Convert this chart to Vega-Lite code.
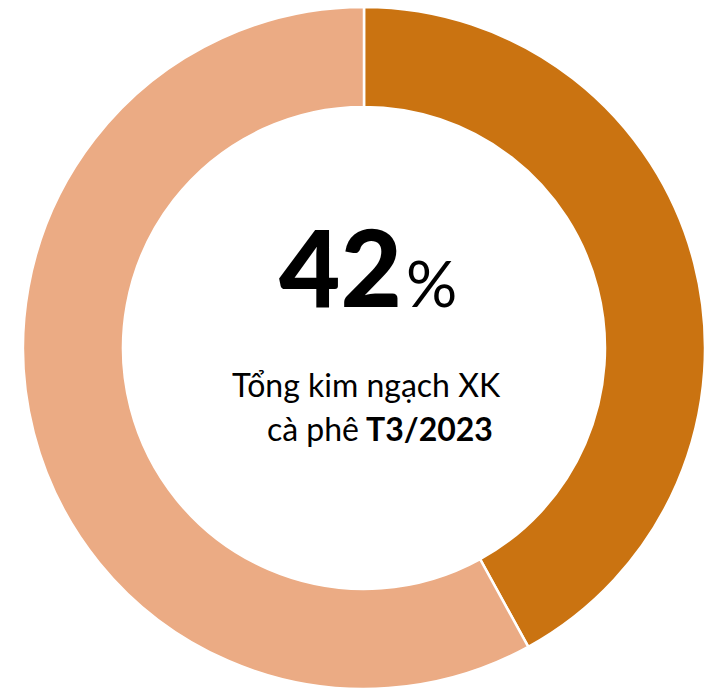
{
  "$schema": "https://vega.github.io/schema/vega-lite/v6.json",
  "width": 680,
  "height": 684,
  "padding": {"left": 24, "top": 6, "right": 0, "bottom": 0},
  "autosize": {"type": "none"},
  "background": "white",
  "view": {"stroke": null},
  "datasets": {
    "share": [
      {"group": "Cà phê", "value": 42, "rank": 1},
      {"group": "Khác", "value": 58, "rank": 2}
    ]
  },
  "layer": [
    {
      "data": {"name": "share"},
      "mark": {"type": "arc", "outerRadius": 341, "innerRadius": 241, "stroke": "white", "strokeWidth": 2.5},
      "encoding": {
        "theta": {"field": "value", "type": "quantitative", "stack": true},
        "order": {"field": "rank", "type": "ordinal"},
        "color": {
          "field": "group", "type": "nominal",
          "scale": {"domain": ["Cà phê", "Khác"], "range": ["#CA7311", "#EBAB84"]},
          "legend": null
        }
      }
    },
    {
      "data": {"values": [{"t": "42"}]},
      "mark": {"type": "text", "font": "Lato", "fontWeight": 900, "fontSize": 106, "align": "right", "baseline": "alphabetic", "dx": 38, "dy": -41, "color": "black"},
      "encoding": {"text": {"field": "t"}}
    },
    {
      "data": {"values": [{"t": "%"}]},
      "mark": {"type": "text", "font": "Lato", "fontSize": 64, "align": "left", "baseline": "alphabetic", "dx": 42, "dy": -41, "color": "black"},
      "encoding": {"text": {"field": "t"}}
    },
    {
      "data": {"values": [{"t": "Tổng kim ngạch XK"}]},
      "mark": {"type": "text", "font": "Lato", "fontSize": 32, "align": "center", "baseline": "alphabetic", "dx": 2, "dy": 49, "color": "black"},
      "encoding": {"text": {"field": "t"}}
    },
    {
      "data": {"values": [{"t": "cà phê"}]},
      "mark": {"type": "text", "font": "Lato", "fontSize": 32, "align": "right", "baseline": "alphabetic", "dx": -5, "dy": 93, "color": "black"},
      "encoding": {"text": {"field": "t"}}
    },
    {
      "data": {"values": [{"t": "T3/2023"}]},
      "mark": {"type": "text", "font": "Lato", "fontWeight": "bold", "fontSize": 32, "align": "left", "baseline": "alphabetic", "dx": 2, "dy": 93, "color": "black"},
      "encoding": {"text": {"field": "t"}}
    }
  ]
}
